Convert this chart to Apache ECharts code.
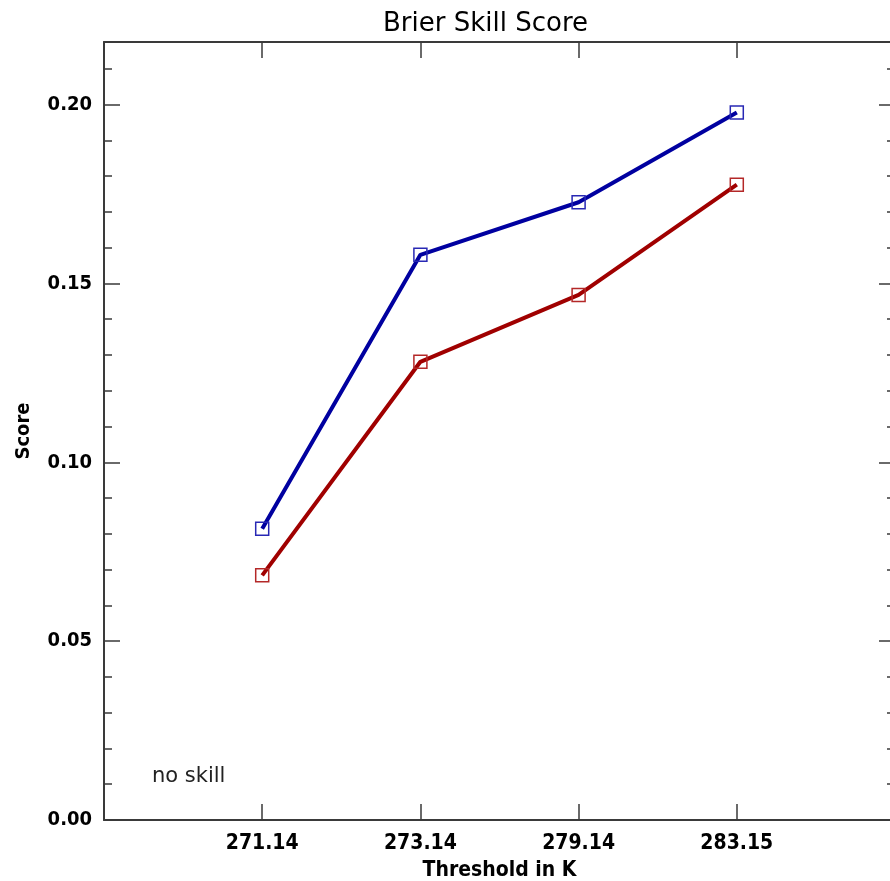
<!DOCTYPE html>
<html>
<head>
<meta charset="utf-8">
<title>Brier Skill Score</title>
<script src="https://cdn.jsdelivr.net/npm/echarts@6/dist/echarts.min.js"></script>
<style>
  html, body { margin: 0; padding: 0; background: #ffffff; }
  #chart { width: 890px; height: 881px; }
</style>
</head>
<body>
<div id="chart"></div>
<script>
// Thresholds (K) shown along the x axis, placed at positions 1..4
const thresholds = ['271.14', '273.14', '279.14', '283.15'];
// Brier skill score for the two forecast systems
const blueScores = [0.0814, 0.158, 0.1727, 0.1978];
const redScores = [0.0684, 0.1281, 0.1468, 0.1776];
// Axis range and tick spacing
const yMin = 0;
const yMax = 0.2175;
const yMajor = 0.05;
const yMinor = 0.01;
const xMin = 0;
const xMax = thresholds.length + 1;

const FONT = '"DejaVu Sans Condensed", "DejaVu Sans", "Liberation Sans", sans-serif';
const AXIS_COLOR = '#3a3a3a';

function toPoints(values) {
  return values.map((v, i) => [i + 1, v]);
}

const chart = echarts.init(document.getElementById('chart'), null, { renderer: 'canvas' });

const tickLabel = { color: '#000', fontFamily: FONT, fontWeight: 'bold', fontSize: 20 };

function yAxisDef(position, major, showLabels) {
  return {
    type: 'value',
    position: position,
    min: yMin,
    max: yMax,
    interval: major ? yMajor : yMinor,
    axisLine: { show: major, onZero: false, lineStyle: { color: AXIS_COLOR, width: 2 } },
    axisTick: { show: true, inside: true, length: major ? 16 : 8, lineStyle: { color: AXIS_COLOR, width: 1.5 } },
    axisLabel: showLabels ? Object.assign({
      margin: 12,
      formatter: v => (Math.abs(v / yMajor - Math.round(v / yMajor)) < 1e-6 ? v.toFixed(2) : '')
    }, tickLabel) : { show: false },
    splitLine: { show: false },
    name: showLabels ? 'Score' : '',
    nameLocation: 'middle',
    nameRotate: 90,
    nameGap: 70,
    nameTextStyle: { color: '#000', fontFamily: FONT, fontWeight: 'bold', fontSize: 20 }
  };
}

function xAxisDef(position, showLabels) {
  return {
    type: 'value',
    position: position,
    min: xMin,
    max: xMax,
    interval: 1,
    axisLine: { show: true, onZero: false, lineStyle: { color: AXIS_COLOR, width: 2 } },
    axisTick: { show: true, inside: true, length: 16, lineStyle: { color: AXIS_COLOR, width: 1.5 } },
    axisLabel: showLabels ? Object.assign({
      margin: 13,
      formatter: v => thresholds[Math.round(v) - 1] || ''
    }, tickLabel, { fontSize: 21 }) : { show: false },
    splitLine: { show: false },
    name: showLabels ? 'Threshold in K' : '',
    nameLocation: 'middle',
    nameGap: 40,
    nameTextStyle: { color: '#000', fontFamily: FONT, fontWeight: 'bold', fontSize: 21 }
  };
}

function lineSeries(name, values, lineColor, markerColor) {
  return {
    name: name,
    type: 'line',
    xAxisIndex: 0,
    yAxisIndex: 0,
    data: toPoints(values),
    symbol: 'rect',
    symbolSize: 13,
    lineStyle: { color: lineColor, width: 4 },
    itemStyle: { color: 'rgba(0,0,0,0)', borderColor: markerColor, borderWidth: 1.5 },
    emphasis: { disabled: true },
    animation: false,
    z: 3
  };
}

chart.setOption({
  animation: false,
  backgroundColor: '#ffffff',
  title: {
    text: 'Brier Skill Score',
    left: 378,
    top: 6,
    textStyle: { color: '#000', fontFamily: '"DejaVu Sans", sans-serif', fontWeight: 'normal', fontSize: 26 }
  },
  grid: { left: 104, top: 42, width: 791, height: 778, containLabel: false, outerBoundsMode: 'none' },
  xAxis: [xAxisDef('bottom', true), xAxisDef('top', false)],
  yAxis: [
    yAxisDef('left', true, true),
    yAxisDef('left', false, false),
    yAxisDef('right', true, false),
    yAxisDef('right', false, false)
  ],
  series: [
    lineSeries('blue', blueScores, '#0000a0', '#2828b4'),
    lineSeries('red', redScores, '#a00000', '#b42828')
  ],
  graphic: [
    {
      type: 'text',
      left: 152,
      top: 766,
      style: { text: 'no skill', fill: '#222', font: '21px "DejaVu Sans", sans-serif' }
    }
  ]
});
</script>
</body>
</html>
